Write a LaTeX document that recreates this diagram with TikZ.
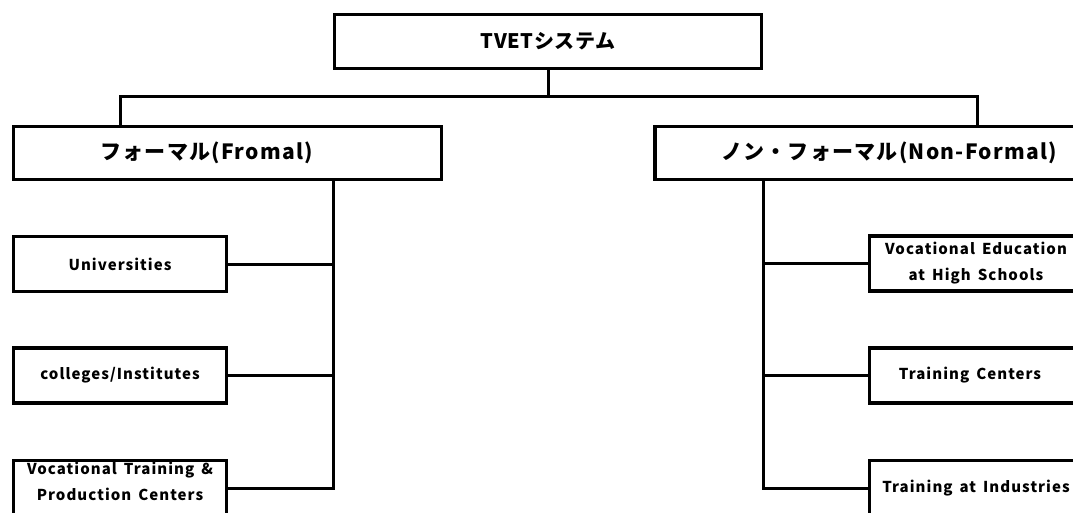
\documentclass[tikz,border=0pt]{standalone}
\usepackage{fontspec}
\setmainfont{Noto Sans CJK JP}
\usetikzlibrary{calc}
\newcommand\mychildspacing{\spaceskip 7pt\relax}
\tikzset{
  box/.style={draw=black, line width=3.4pt, fill=white, rectangle, inner sep=0pt, font=\bfseries},
  topbox/.style={box, minimum width=427pt, minimum height=54pt, font={\bfseries\fontsize{20}{24}\selectfont\addfontfeature{LetterSpace=3}}},
  headbox/.style={box, minimum height=53pt, font={\bfseries\fontsize{21}{24}\selectfont\addfontfeature{LetterSpace=6}}},
  childbox/.style={box, minimum width=213pt, minimum height=55pt, align=center, font={\bfseries\fontsize{15}{26}\selectfont\addfontfeature{LetterSpace=7}\mychildspacing}},
  conn/.style={line width=3pt, line cap=butt}
}
\begin{document}
\begin{tikzpicture}[x=1pt,y=-1pt]
\useasboundingbox (0,0) rectangle (1073,513);
\clip (0,0) rectangle (1073,513);
\fill[white] (0,0) rectangle (1073,513);
% nodes
\node[topbox] (top) at (548,41.5) {TVETシステム};
\node[headbox, minimum width=428pt] (formal) at (227.5,153) {\hspace*{-42pt}フォーマル(Fromal)};
\node[headbox, minimum width=468pt] (nonformal) at (889,153) {ノン・フォーマル(Non-Formal)};
\node[childbox] (uni) at (120,264) {Universities};
\node[childbox] (col) at (120,375.5) {colleges/Institutes};
\node[childbox, text depth=14pt] (vtpc) at (120,488) {Vocational Training \&\\Production Centers};
\node[childbox] (veh) at (976,263.5) {Vocational Education\\at High Schools};
\node[childbox] (tc) at (976,375.5) {\hspace*{-12pt}Training Centers};
\node[childbox] (ti) at (976,488) {Training at Industries};
% coordinates
\coordinate (bar) at (548,97);
\coordinate (bl) at (120,97);
\coordinate (br) at (977,97);
\coordinate (tl) at (333,488);
\coordinate (tr) at (763,488);
% top connectors
\draw[conn] (top.south) -- (bar);
\draw[conn] (formal.north -| bl) -- (bl) -- (br) -- (nonformal.north -| br);
% left trunk
\draw[conn] (formal.south -| tl) -- (tl) -- (vtpc.east);
\draw[conn] (uni.east) -- (uni.east -| tl);
\draw[conn] (col.east) -- (col.east -| tl);
% right trunk
\draw[conn] (nonformal.south -| tr) -- (tr) -- (ti.west);
\draw[conn] (veh.west) -- (veh.west -| tr);
\draw[conn] (tc.west) -- (tc.west -| tr);
\end{tikzpicture}
\end{document}
